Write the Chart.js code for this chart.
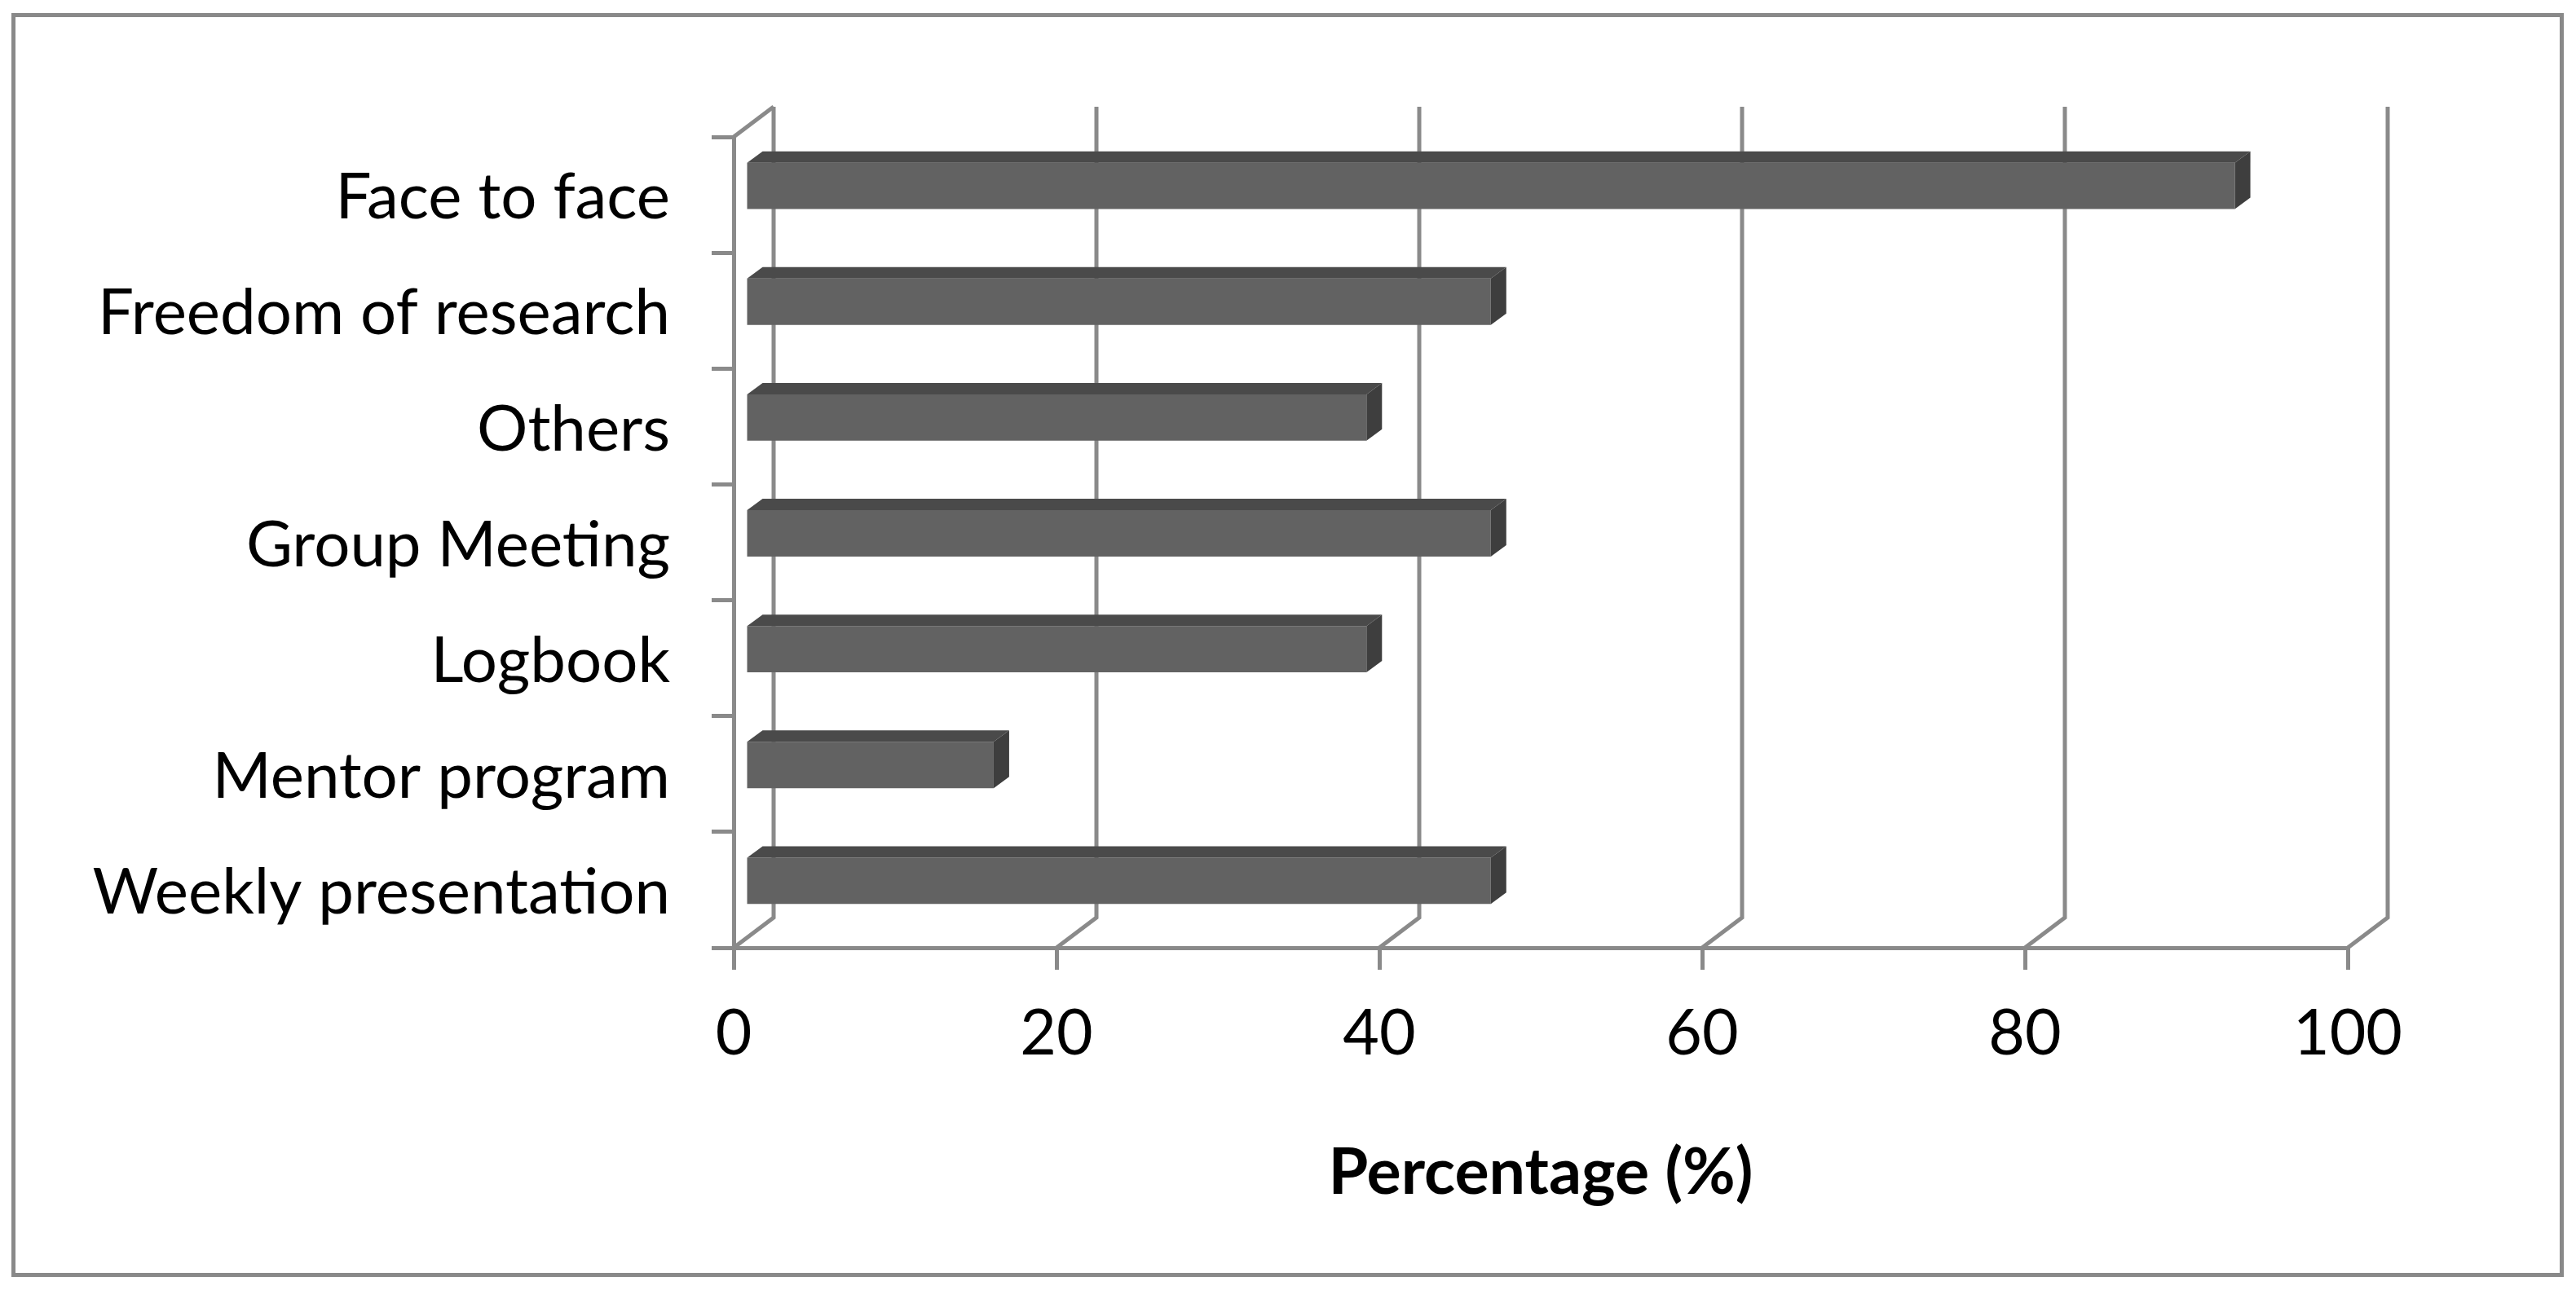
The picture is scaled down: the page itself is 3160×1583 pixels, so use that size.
<!DOCTYPE html>
<html lang="en">

<head>
    <meta charset="UTF-8">
    <title>Supervision methods</title>
    <script src="https://cdn.jsdelivr.net/npm/chart.js"></script>
    <style>
        body { margin: 0; background: #fff; }
        #wrap { width: 3160px; height: 1583px; position: relative; }
    </style>
</head>

<body>
    <div id="wrap"><canvas id="methodChart"></canvas></div>

    <script>
        // data
        const categories = ['Face to face', 'Freedom of research', 'Others', 'Group Meeting', 'Logbook', 'Mentor program', 'Weekly presentation'];
        const percentages = [92.3, 46.2, 38.5, 46.2, 38.5, 15.4, 46.2];
        const xTicks = [0, 20, 40, 60, 80, 100];

        const gridColor = '#8a8a8a';
        const font = 'Lato';

        // 3D look: back wall offset, bar depth offset, bar 3D depth
        const wallDepth = { x: 49, y: -37 };
        const barShift = { x: 14, y: -11 };
        const barDepth = { x: 19, y: -14 };

        const walls = {
            id: 'walls',
            beforeDatasetsDraw(chart) {
                const { ctx, chartArea, scales } = chart;
                ctx.save();
                ctx.strokeStyle = gridColor;
                ctx.lineWidth = 5;
                ctx.lineJoin = 'miter';
                xTicks.forEach(v => {
                    const fx = scales.x.getPixelForValue(v);
                    ctx.beginPath();
                    ctx.moveTo(fx, chartArea.bottom);
                    ctx.lineTo(fx + wallDepth.x, chartArea.bottom + wallDepth.y);
                    ctx.lineTo(fx + wallDepth.x, chartArea.top + wallDepth.y);
                    ctx.stroke();
                });
                // left wall top edge
                ctx.beginPath();
                ctx.moveTo(chartArea.left, chartArea.top);
                ctx.lineTo(chartArea.left + wallDepth.x, chartArea.top + wallDepth.y);
                ctx.stroke();
                ctx.restore();

                // bars sit a bit behind the front plane
                ctx.save();
                ctx.translate(barShift.x, barShift.y);
            },
            afterDatasetsDraw(chart) {
                const { ctx } = chart;
                chart.getDatasetMeta(0).data.forEach(bar => {
                    const top = bar.y - bar.height / 2;
                    const bottom = bar.y + bar.height / 2;
                    ctx.fillStyle = '#4a4a4a';
                    ctx.beginPath();
                    ctx.moveTo(bar.base, top);
                    ctx.lineTo(bar.x, top);
                    ctx.lineTo(bar.x + barDepth.x, top + barDepth.y);
                    ctx.lineTo(bar.base + barDepth.x, top + barDepth.y);
                    ctx.closePath();
                    ctx.fill();
                    ctx.fillStyle = '#3e3e3e';
                    ctx.beginPath();
                    ctx.moveTo(bar.x, top);
                    ctx.lineTo(bar.x + barDepth.x, top + barDepth.y);
                    ctx.lineTo(bar.x + barDepth.x, bottom + barDepth.y);
                    ctx.lineTo(bar.x, bottom);
                    ctx.closePath();
                    ctx.fill();
                });
                ctx.restore();
            },
            afterDraw(chart) {
                const { ctx } = chart;
                ctx.save();
                ctx.strokeStyle = '#898989';
                ctx.lineWidth = 5;
                ctx.strokeRect(16.5, 18.5, 3126, 1546);
                ctx.restore();
            }
        };

        new Chart(document.getElementById('methodChart'), {
            type: 'bar',
            data: {
                labels: categories,
                datasets: [{
                    data: percentages,
                    backgroundColor: '#626262',
                    borderWidth: 0,
                    barPercentage: 0.4,
                    categoryPercentage: 1
                }]
            },
            options: {
                indexAxis: 'y',
                responsive: true,
                maintainAspectRatio: false,
                animation: false,
                layout: { padding: { left: 0, top: 168, right: 280, bottom: 0 } },
                plugins: { legend: { display: false }, tooltip: { enabled: false } },
                scales: {
                    x: {
                        min: 0,
                        max: 100,
                        afterBuildTicks: s => { s.ticks = xTicks.map(v => ({ value: v })); },
                        afterFit: s => { s.height = 420; },
                        grid: { drawOnChartArea: false, color: gridColor, lineWidth: 5, tickLength: 27 },
                        border: { color: gridColor, width: 5 },
                        ticks: { color: '#000', font: { family: font, size: 77 }, padding: 33, maxRotation: 0 },
                        title: {
                            display: true,
                            text: 'Percentage (%)',
                            color: '#000',
                            font: { family: font, size: 79, weight: 'bold' },
                            padding: { top: 0, bottom: 96 }
                        }
                    },
                    y: {
                        afterFit: s => { s.width = 900; },
                        grid: { drawOnChartArea: false, color: gridColor, lineWidth: 5, tickLength: 27 },
                        border: { color: gridColor, width: 5 },
                        ticks: { color: '#000', font: { family: font, size: 78 }, padding: 51, labelOffset: 4 }
                    }
                }
            },
            plugins: [walls]
        });
    </script>
</body>

</html>
